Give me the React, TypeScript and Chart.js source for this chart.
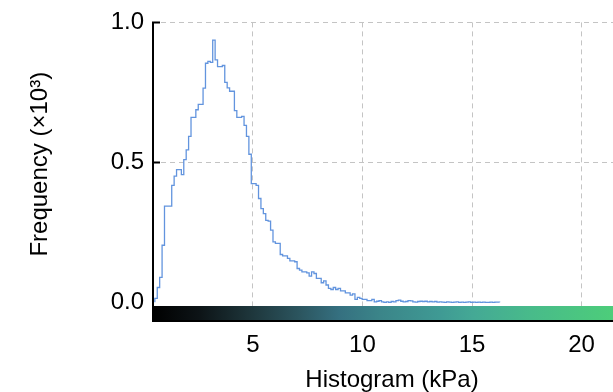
import { useEffect, useRef } from "react";
import { Chart, registerables } from "chart.js";

Chart.register(...registerables);

// Histogram binning (kPa)
const BIN_START = 0.53;
const BIN_WIDTH = 0.11;

// Counts per bin, in thousands
const counts = [
  0.014, 0.014, 0.053, 0.089, 0.204, 0.344, 0.344, 0.344, 0.418, 0.451,
  0.474, 0.474, 0.456, 0.51, 0.545, 0.593, 0.661, 0.661, 0.688, 0.707,
  0.707, 0.765, 0.854, 0.861, 0.857, 0.937, 0.866, 0.842, 0.842, 0.846,
  0.786, 0.766, 0.754, 0.754, 0.685, 0.661, 0.661, 0.664, 0.632, 0.593,
  0.529, 0.424, 0.424, 0.418, 0.371, 0.335, 0.317, 0.293, 0.29, 0.258,
  0.216, 0.211, 0.211, 0.171, 0.166, 0.166, 0.157, 0.148, 0.148, 0.145,
  0.121, 0.115, 0.109, 0.109, 0.105, 0.094, 0.109, 0.103, 0.086, 0.086,
  0.07, 0.077, 0.062, 0.05, 0.046, 0.053, 0.046, 0.05, 0.041, 0.041,
  0.034, 0.034, 0.026, 0.03, 0.011, 0.018, 0.014, 0.011, 0.011, 0.006,
  0.006, 0.011, 0.002, 0.004, 0.006, 0.002, 0.0, 0.002, 0.0, 0.003,
  0.002, 0.006, 0.008, 0.004, 0.002, 0.003, 0.006, 0.005, 0.002, 0.001,
  0.003, 0.004, 0.003, 0.004, 0.002, 0.003, 0.002, 0.003, 0.001, 0.002,
  0.001, 0.0, 0.002, 0.001, 0.0, 0.001, 0.002, 0.0, 0.001, 0.0,
  0.001, 0.002, 0.0, 0.001, 0.0, 0.001, 0.0, 0.001, 0.0, 0.0,
  0.001, 0.0, 0.001,
];

const xTicks = [5, 10, 15, 20];
const yTicks = [0, 0.5, 1.0];
const X_MIN = 0.4;
const X_MAX = 22.3;
const Y_MIN = -0.013;
const Y_MAX = 1.0;

// Colour ramp of the pressure bar under the x axis
const colorbarStops: [number, string][] = [
  [0.0, "#000000"],
  [0.1, "#0d1417"],
  [0.2, "#1d3439"],
  [0.31, "#2c5660"],
  [0.39, "#357080"],
  [0.475, "#3b8589"],
  [0.6, "#3f9a94"],
  [0.67, "#44a995"],
  [0.79, "#48bb8a"],
  [0.96, "#4dcd7a"],
  [1.0, "#50d277"],
];

const FONT_FAMILY = "'Liberation Sans', Arial, Helvetica, sans-serif";
const GRID = "#c4c4c4";

const framePlugin = {
  id: "frame",
  afterDraw(chart: any) {
    const { ctx, chartArea } = chart;
    const { left, right, top, bottom } = chartArea;
    const yScale = chart.scales.y;
    ctx.save();
    const grad = ctx.createLinearGradient(left, 0, right, 0);
    colorbarStops.forEach(([t, c]) => grad.addColorStop(t, c));
    ctx.fillStyle = grad;
    ctx.fillRect(left, bottom, right - left, 14);

    ctx.strokeStyle = "#000";
    ctx.lineWidth = 2;
    ctx.beginPath();
    ctx.moveTo(left + 1, top - 1);
    ctx.lineTo(left + 1, bottom + 16);
    ctx.moveTo(left, bottom + 15);
    ctx.lineTo(right, bottom + 15);
    [0.5, 1.0].forEach((v) => {
      const y = yScale.getPixelForValue(v);
      ctx.moveTo(left, y);
      ctx.lineTo(left + 8, y);
    });
    ctx.stroke();
    ctx.restore();
  },
};

export default function App() {
  const ref = useRef<HTMLCanvasElement>(null);

  useEffect(() => {
    if (!ref.current) return;
    const last = counts.length;
    const points: { x: number; y: number }[] = [{ x: BIN_START, y: 0 }];
    counts.forEach((c, i) => points.push({ x: BIN_START + i * BIN_WIDTH, y: c }));
    points.push({ x: BIN_START + last * BIN_WIDTH, y: counts[last - 1] });
    points.push({ x: BIN_START + last * BIN_WIDTH, y: 0 });

    const font = { family: FONT_FAMILY, size: 24, lineHeight: 1.2 };

    const chart = new Chart(ref.current, {
      type: "line",
      data: {
        datasets: [
          {
            data: points,
            stepped: "after",
            borderColor: "rgb(98,148,222)",
            borderWidth: 1.3,
            pointRadius: 0,
            fill: false,
          },
        ],
      },
      options: {
        responsive: false,
        animation: false,
        layout: { padding: { top: 21.7, left: 0, right: 8, bottom: 0 } },
        plugins: {
          legend: { display: false },
          tooltip: { enabled: false },
        },
        scales: {
          x: {
            type: "linear",
            min: X_MIN,
            max: X_MAX,
            afterBuildTicks: (s: any) => {
              s.ticks = xTicks.map((v) => ({ value: v }));
            },
            afterFit: (s: any) => {
              s.height = 89;
            },
            grid: { color: GRID, lineWidth: 1, drawTicks: false },
            border: { display: false, dash: [5, 4] },
            ticks: {
              padding: 24.6,
              color: "#000",
              font,
              maxRotation: 0,
              callback: (v: any) => String(v),
            },
            title: {
              display: true,
              text: "Histogram (kPa)",
              color: "#000",
              font,
              padding: { top: 0, bottom: 0 },
            },
          },
          y: {
            type: "linear",
            min: Y_MIN,
            max: Y_MAX,
            afterBuildTicks: (s: any) => {
              s.ticks = yTicks.map((v) => ({ value: v }));
            },
            afterFit: (s: any) => {
              s.width = 152;
            },
            grid: {
              color: (c: any) => (c.tick && c.tick.value === 0 ? "rgba(0,0,0,0)" : GRID),
              lineWidth: 1,
              drawTicks: false,
            },
            border: { display: false, dash: [5, 4] },
            ticks: {
              padding: 8,
              color: "#000",
              font,
              callback: (v: any) => Number(v).toFixed(1),
            },
            title: {
              display: true,
              text: "Frequency (×10³)",
              color: "#000",
              font,
              padding: { top: 25.6, bottom: 0 },
            },
          },
        },
      },
      plugins: [framePlugin],
    });
    return () => chart.destroy();
  }, []);

  return (
    <div
      style={{
        position: "fixed",
        left: 0,
        top: 0,
        width: 613,
        height: 392,
        overflow: "hidden",
        background: "#fff",
      }}
    >
      <canvas ref={ref} width={640} height={395} style={{ display: "block" }} />
    </div>
  );
}
